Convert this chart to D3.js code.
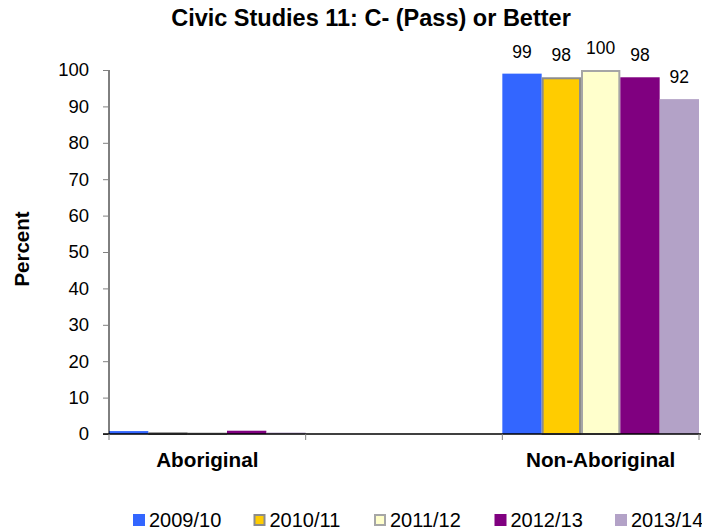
<!DOCTYPE html>
<html>
<head>
<meta charset="utf-8">
<script src="https://cdn.jsdelivr.net/npm/d3@7"></script>
<style>
  body { margin: 0; background: #fff; }
  text { font-family: Arial, "Liberation Sans", sans-serif; }
</style>
</head>
<body>
<svg id="chart" width="702" height="531"></svg>
<script>
// Category groups (middle slot is an empty spacer category)
const categories = ["Aboriginal", "", "Non-Aboriginal"];
const years = ["2009/10", "2010/11", "2011/12", "2012/13", "2013/14"];
// Percent per year, one array per category
const aboriginal = [0.8, 0.5, 0.4, 0.9, 0.4];
const nonAboriginal = [99, 98, 100, 98, 92];
const yTicks = [0, 10, 20, 30, 40, 50, 60, 70, 80, 90, 100];

const colors = ["#3366FF", "#FFCC00", "#FFFFCC", "#800080", "#B3A2C7"];
const strokes = [null, "#8c8c8c", "#a6a6a6", null, null];

const svg = d3.select("#chart");
const plotLeft = 109, plotRight = 699, plotTop = 70, plotBottom = 434;

const x0 = d3.scaleBand().domain(categories).range([plotLeft, plotRight]).paddingInner(0).paddingOuter(0);
const x1 = d3.scaleBand().domain(years).range([0, x0.bandwidth()]).padding(0);
const y = d3.scaleLinear().domain([0, 100]).range([plotBottom, plotTop]);

const data = [
  { cat: "Aboriginal", values: aboriginal, labels: false },
  { cat: "Non-Aboriginal", values: nonAboriginal, labels: true }
];

// Title
svg.append("text").attr("x", 371).attr("y", 26).attr("text-anchor", "middle")
  .attr("font-size", "23.5px").attr("font-weight", "bold").text("Civic Studies 11: C- (Pass) or Better");

// Y axis title
svg.append("text").attr("transform", "translate(29,249) rotate(-90)").attr("text-anchor", "middle")
  .attr("font-size", "20.5px").attr("font-weight", "bold").text("Percent");

// Bars
data.forEach(d => {
  const g = svg.append("g").attr("transform", `translate(${x0(d.cat)},0)`);
  d.values.forEach((v, i) => {
    const s = strokes[i];
    const x = x1(years[i]), w = x1.bandwidth();
    g.append("rect")
      .attr("x", s ? x + 1 : x).attr("width", s ? w - 2 : w)
      .attr("y", y(v) + (s ? 1 : 0))
      .attr("height", Math.max(0, y(0) - y(v) - (s ? 1 : 0)))
      .attr("fill", colors[i])
      .attr("stroke", s || "none").attr("stroke-width", s ? 2 : 0);
    if (d.labels) {
      g.append("text").attr("x", x + w / 2).attr("y", y(v) - 16)
        .attr("text-anchor", "middle").attr("font-size", "17.5px").text(v);
    }
  });
});

// Y axis
const yAxis = d3.axisLeft(y).tickValues(yTicks).tickSize(6).tickPadding(14);
const ya = svg.append("g").attr("transform", `translate(${plotLeft},0)`).call(yAxis);
ya.select(".domain").attr("stroke", "#000").attr("d", `M0,${plotTop}V${plotBottom}`);
ya.selectAll(".tick line").attr("stroke", "#808080");
ya.selectAll(".tick text").attr("font-size", "18.5px").attr("fill", "#000")
  .attr("font-family", "Arial, 'Liberation Sans', sans-serif");

// X axis line with tick marks at category boundaries
svg.append("line").attr("x1", plotLeft - 6).attr("x2", plotRight + 2).attr("y1", plotBottom).attr("y2", plotBottom)
  .attr("stroke", "#000").attr("stroke-width", 1.5);
const boundaries = categories.map(c => x0(c)).concat([plotRight]);
svg.selectAll(".xtick").data(boundaries).enter().append("line")
  .attr("x1", d => d).attr("x2", d => d).attr("y1", plotBottom).attr("y2", plotBottom + 6)
  .attr("stroke", "#808080");

// Category labels
categories.forEach(c => {
  if (!c) return;
  svg.append("text").attr("x", x0(c) + x0.bandwidth() / 2).attr("y", 467)
    .attr("text-anchor", "middle").attr("font-size", "20.7px").attr("font-weight", "bold").text(c);
});

// Legend
const legendX = [133, 253.5, 374, 494.5, 615];
years.forEach((yr, i) => {
  const g = svg.append("g").attr("transform", `translate(${legendX[i]},514)`);
  const s = strokes[i];
  g.append("rect").attr("x", s ? 1 : 0).attr("y", s ? 1 : 0)
    .attr("width", s ? 10 : 12).attr("height", s ? 10 : 12)
    .attr("fill", colors[i]).attr("stroke", s || "none").attr("stroke-width", s ? 2 : 0);
  g.append("text").attr("x", 16).attr("y", 13).attr("font-size", "20px").text(yr);
});
</script>
</body>
</html>
